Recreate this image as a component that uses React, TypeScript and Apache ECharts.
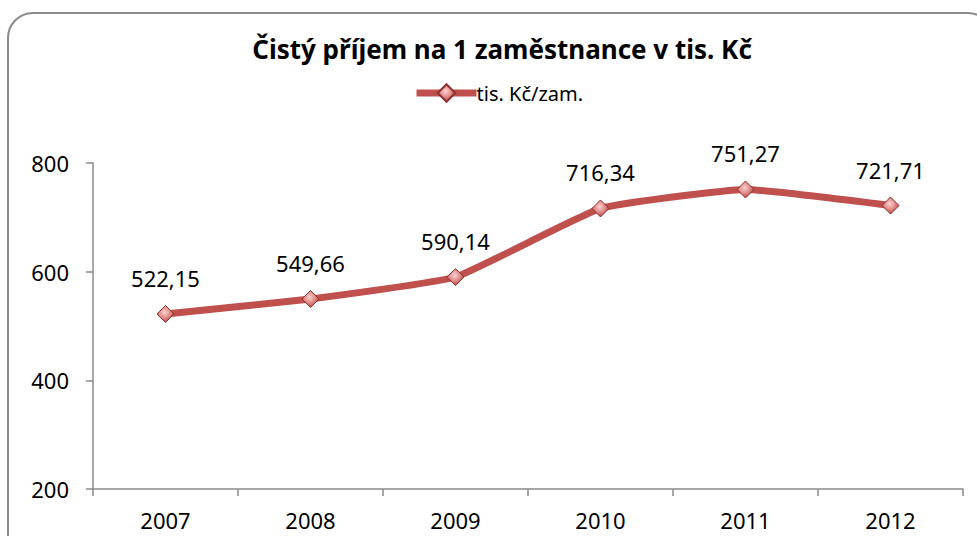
import React, { useEffect, useRef } from "react";
import * as echarts from "echarts";

const categories = ["2007", "2008", "2009", "2010", "2011", "2012"];
const values = [522.15, 549.66, 590.14, 716.34, 751.27, 721.71];
const seriesName = "tis. Kč/zam.";
const titleText = "Čistý příjem na 1 zaměstnance v tis. Kč";

export default function App() {
  const ref = useRef<HTMLDivElement>(null);
  useEffect(() => {
    if (!ref.current) return;
    const chart = echarts.init(ref.current, null, { renderer: "svg" });
    const font = "'Noto Sans', 'Open Sans', sans-serif";
    const markerFill = new echarts.graphic.RadialGradient(0.45, 0.4, 0.6, [
      { offset: 0, color: "#FBD2D0" },
      { offset: 0.55, color: "#E08A87" },
      { offset: 1, color: "#B4423F" },
    ]);
    chart.setOption({
      animation: false,
      backgroundColor: "#ffffff",
      textStyle: { fontFamily: font },
      title: {
        text: titleText,
        left: 497,
        textAlign: "center",
        top: 31,
        textStyle: { fontFamily: font, fontSize: 26, fontWeight: "bold", color: "#000" },
      },
      legend: {
        left: 413,
        top: 83,
        padding: 0,
        itemWidth: 60,
        itemHeight: 22,
        itemGap: 0,
        lineStyle: { width: 7, color: "#C0504D" },
        textStyle: { fontFamily: font, fontSize: 20, color: "#000", padding: [0, 0, 0, -5] },
        data: [seriesName],
      },
      graphic: [
        {
          type: "rect",
          z: -1,
          shape: { x: 8, y: 13, width: 985, height: 600, r: 25 },
          style: { fill: "none", stroke: "#8a8a8a", lineWidth: 2 },
        },
      ],
      grid: { left: 93, right: 14, top: 163, bottom: 47 },
      xAxis: {
        type: "category",
        data: categories,
        boundaryGap: true,
        axisLine: { lineStyle: { color: "#8a8a8a", width: 1.5 } },
        axisTick: { show: true, length: 7, lineStyle: { color: "#8a8a8a", width: 1.5 } },
        axisLabel: { fontFamily: font, fontSize: 22, color: "#000", margin: 20 },
        splitLine: { show: false },
      },
      yAxis: {
        type: "value",
        min: 200,
        max: 800,
        interval: 200,
        axisLine: { show: true, lineStyle: { color: "#8a8a8a", width: 1.5 } },
        axisTick: { show: true, length: 7, lineStyle: { color: "#8a8a8a", width: 1.5 } },
        axisLabel: { fontFamily: font, fontSize: 22, color: "#000", margin: 24 },
        splitLine: { show: false },
      },
      series: [
        {
          name: seriesName,
          type: "line",
          data: values,
          smooth: 0.12,
          symbol: "diamond",
          symbolSize: 17,
          lineStyle: { color: "#C0504D", width: 7 },
          itemStyle: {
            color: markerFill,
            borderColor: "#8E3330",
            borderWidth: 1,
          },
          label: {
            show: true,
            position: "top",
            distance: 16,
            fontFamily: font,
            fontSize: 22,
            color: "#000",
            formatter: (p: any) => p.value.toFixed(2).replace(".", ","),
          },
        },
      ],
    });
    return () => chart.dispose();
  }, []);
  return (
    <div
      ref={ref}
      style={{ position: "absolute", left: 0, top: 0, width: 977, height: 536 }}
    />
  );
}
